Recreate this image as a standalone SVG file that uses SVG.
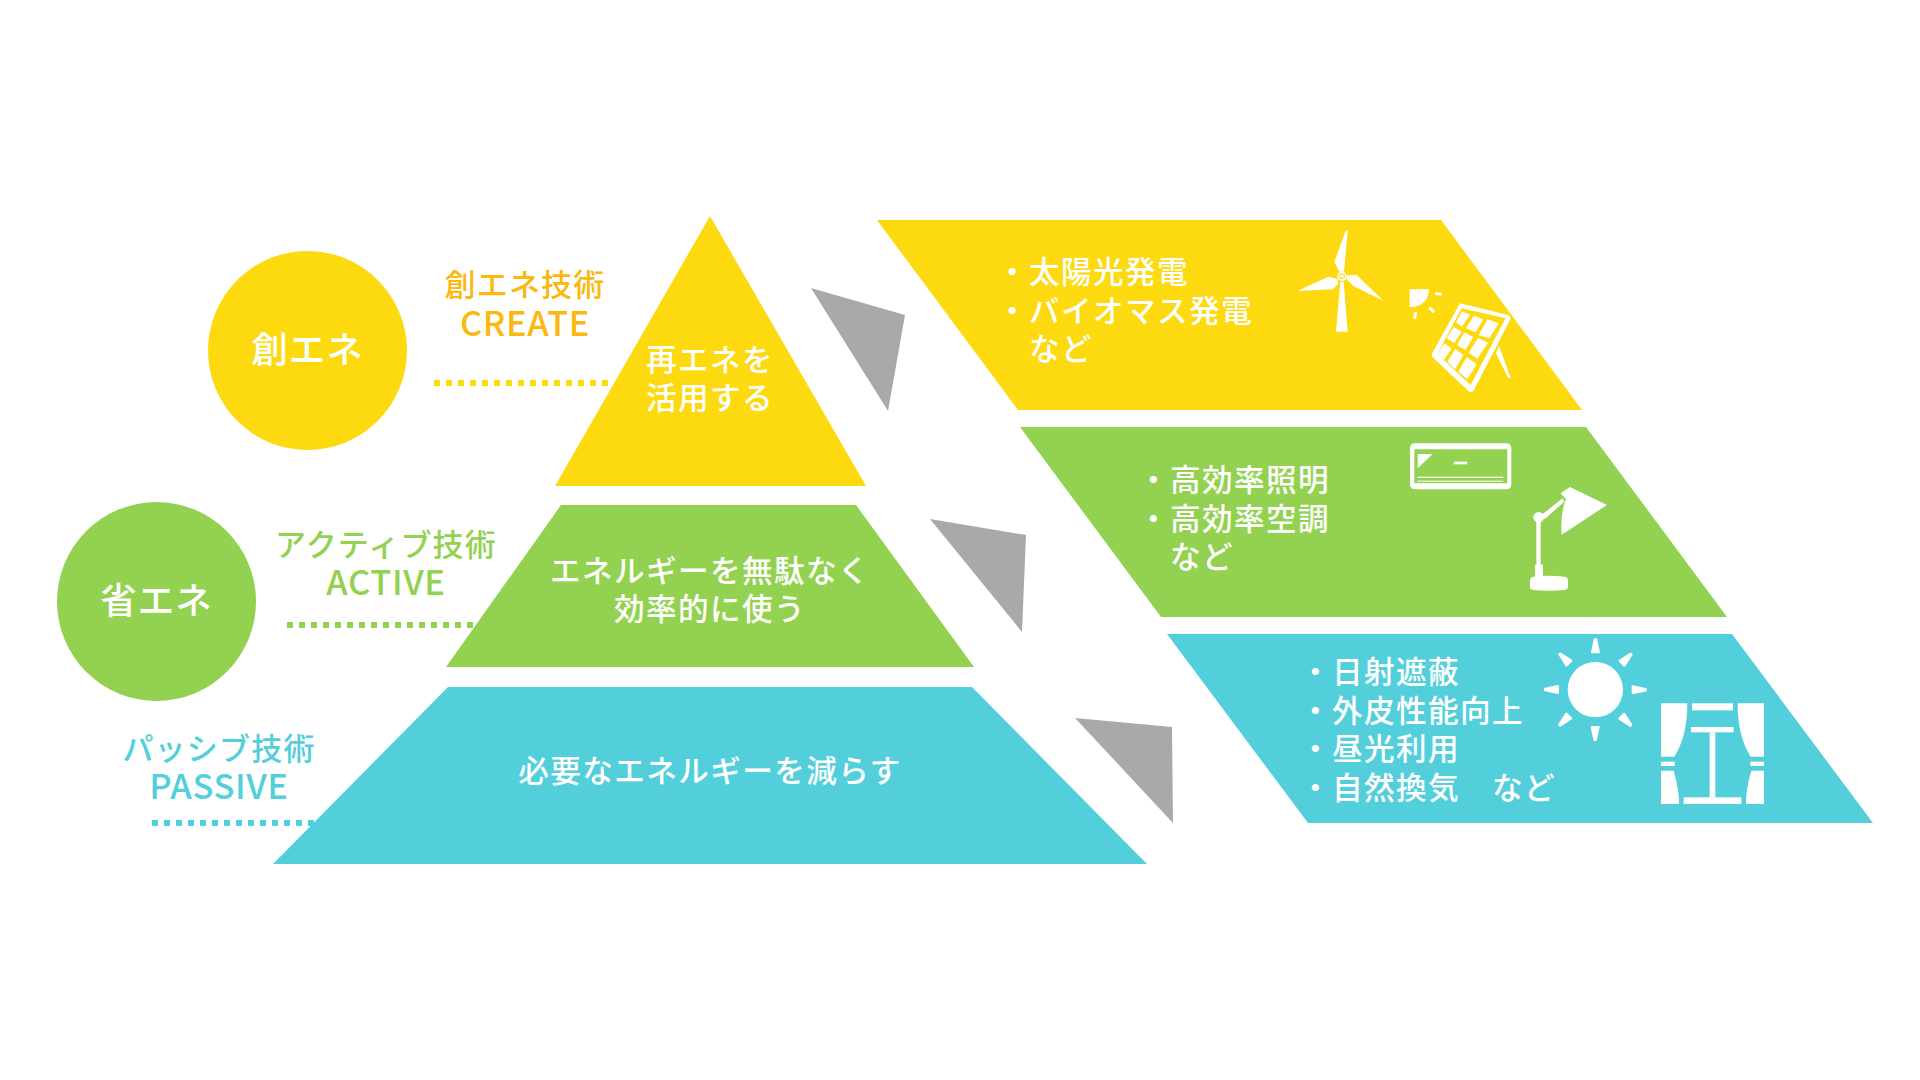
<svg xmlns="http://www.w3.org/2000/svg" width="1920" height="1080" viewBox="0 0 1920 1080">
<style>
text{font-family:"Noto Sans CJK JP","Noto Sans",sans-serif;font-weight:500;}
.w{fill:#fff;font-size:30.6px;letter-spacing:1.4px}
.c{text-anchor:middle}
.big{font-size:36.5px;letter-spacing:1px}
.lab{font-size:31px;letter-spacing:1.2px}
.en{font-size:34.5px;letter-spacing:.6px}
.y{fill:#fdd90f}.g{fill:#93d250}.b{fill:#53cfdc}.gr{fill:#aba8a8}
.o{fill:#fbb80f}
.dot{fill:none;stroke-width:6;stroke-dasharray:6 6}
.ic{fill:#fff}
</style>
<rect width="1920" height="1080" fill="#fff"/>
<g id="connectors">
<line class="dot" x1="434" y1="383" x2="612" y2="383" stroke="#fdd90f"/>
<line class="dot" x1="287" y1="625" x2="476" y2="625" stroke="#93d250"/>
<line class="dot" x1="152" y1="823" x2="320" y2="823" stroke="#53cfdc"/>
<polygon class="gr" points="811,288 905,315 888,411"/>
<polygon class="gr" points="930,519 1026,535 1022,632"/>
<polygon class="gr" points="1075,718 1172,727 1173,823"/>
</g>
<g id="circle-create"><circle class="y" cx="307.5" cy="350.5" r="99.5"/><text class="w big c" x="307.5" y="363">創エネ</text></g>
<g id="circle-save"><circle class="g" cx="156.5" cy="601.5" r="99.5"/><text class="w big c" x="156.5" y="614">省エネ</text></g>
<g id="label-create"><text class="c"><tspan class="o lab" x="525" y="296">創エネ技術</tspan><tspan class="o en" x="525" y="336">CREATE</tspan></text></g>
<g id="label-active"><text class="c"><tspan class="g lab" x="386" y="556">アクティブ技術</tspan><tspan class="g en" x="386" y="595">ACTIVE</tspan></text></g>
<g id="label-passive"><text class="c"><tspan class="b lab" x="219" y="760">パッシブ技術</tspan><tspan class="b en" x="219" y="799">PASSIVE</tspan></text></g>
<g id="pyramid-top"><polygon class="y" points="710,216 866,486 555,486"/><text class="w c"><tspan x="710" y="371">再エネを</tspan><tspan x="710" y="409">活用する</tspan></text></g>
<g id="pyramid-mid"><polygon class="g" points="561,505 856,505 974,667 446,667"/><text class="w c"><tspan x="710" y="582">エネルギーを無駄なく</tspan><tspan x="710" y="620">効率的に使う</tspan></text></g>
<g id="pyramid-bottom"><polygon class="b" points="448,687 972,687 1147,864 273,864"/><text class="w c" x="710" y="782">必要なエネルギーを減らす</text></g>
<g id="panel-create"><polygon class="y" points="877,220 1441,220 1582,410 1018,410"/>
<text class="w"><tspan x="997" y="283">・太陽光発電</tspan><tspan x="997" y="322">・バイオマス発電</tspan><tspan x="1029" y="360">など</tspan></text>
<g class="ic" transform="translate(1260 210) scale(.3333)">
<polygon points="258,60 263,64 252,185 238,185 223,155"/>
<polygon points="112,243 205,200 232,207 235,222 218,238"/>
<polygon points="370,272 290,195 262,195 260,208 280,228"/>
<polygon points="241,215 251,215 263,365 228,365"/>
<circle cx="246" cy="199" r="14" fill="#fff"/><circle cx="246" cy="199" r="9" fill="#fdd90f"/><circle cx="246" cy="199" r="6" fill="#fff"/>
<path d="M449 238H507Q505 282 462 291L449 291Z"/>
<rect x="525" y="247" width="21" height="9" rx="3" transform="rotate(8 535 251)"/>
<rect x="505" y="295" width="21" height="9" rx="3" transform="rotate(42 515 299)"/>
<rect x="456" y="312" width="21" height="9" rx="3" transform="rotate(100 466 316)"/>
<path fill-rule="evenodd" d="M600 280L745 315Q755 320 750 330L642 540Q635 550 625 543L518 442Q512 435 518 427ZM605 295L532 432L632 525L737 325Z"/>
<polygon points="588,337 606,304 630,314 606,350"/><polygon points="618,355 642,317 670,328 647,367"/><polygon points="656,375 683,328 716,340 688,385"/>
<polygon points="560,385 581,351 605,365 583,399"/><polygon points="591,405 613,367 640,381 616,420"/><polygon points="626,428 654,384 684,398 652,446"/>
<polygon points="532,432 553,400 575,415 552,450"/><polygon points="562,455 586,417 610,435 585,478"/><polygon points="595,485 620,442 650,462 622,508"/>
<polygon points="717,408 752,503 745,505 708,430"/>
</g></g>
<g id="panel-active"><polygon class="g" points="1020,427 1586,427 1727,617 1161,617"/>
<text class="w"><tspan x="1138" y="491">・高効率照明</tspan><tspan x="1138" y="530">・高効率空調</tspan><tspan x="1170" y="568">など</tspan></text>
<g class="ic" transform="translate(1380 430) scale(.3333)">
<path fill-rule="evenodd" d="M106 40H378Q394 40 394 56V162Q394 178 378 178H106Q90 178 90 162V56Q90 40 106 40ZM103 58V135H382V58ZM103 160H382V146Q382 135 382 135H103Z"/>
<polygon points="113,72 158,72 113,115"/><rect x="221" y="95" width="41" height="8"/>
<rect x="112" y="140" width="258" height="4"/><rect x="112" y="152" width="258" height="3"/>
<path d="M570 171L681 225L545 314Q540 250 558 208L542 190Z"/>
<polygon points="488,252 548,205 553,215 494,268"/><circle cx="476" cy="262" r="16"/>
<rect x="469" y="270" width="13" height="140"/><rect x="465" y="404" width="24" height="40"/>
<path d="M460 440Q505 435 553 440Q564 442 564 452V470Q564 478 553 480Q505 484 460 480Q450 478 450 470V452Q450 442 460 440Z"/>
</g></g>
<g id="panel-passive"><polygon class="b" points="1167,634 1732,634 1873,823 1308,823"/>
<text class="w"><tspan x="1300" y="683">・日射遮蔽</tspan><tspan x="1300" y="722">・外皮性能向上</tspan><tspan x="1300" y="760">・昼光利用</tspan><tspan x="1300" y="799">・自然換気　など</tspan></text>
<g class="ic" transform="translate(1520 630) scale(.3333)">
<circle cx="226" cy="179" r="83"/>
<path d="M222 25H231L240 66Q240 70 236 70H217Q212 70 213 66Z"/>
<path d="M222 25H231L240 66Q240 70 236 70H217Q212 70 213 66Z" transform="rotate(45 226 179)"/>
<path d="M222 25H231L240 66Q240 70 236 70H217Q212 70 213 66Z" transform="rotate(90 226 179)"/>
<path d="M222 25H231L240 66Q240 70 236 70H217Q212 70 213 66Z" transform="rotate(135 226 179)"/>
<path d="M222 25H231L240 66Q240 70 236 70H217Q212 70 213 66Z" transform="rotate(180 226 179)"/>
<path d="M222 25H231L240 66Q240 70 236 70H217Q212 70 213 66Z" transform="rotate(225 226 179)"/>
<path d="M222 25H231L240 66Q240 70 236 70H217Q212 70 213 66Z" transform="rotate(270 226 179)"/>
<path d="M222 25H231L240 66Q240 70 236 70H217Q212 70 213 66Z" transform="rotate(315 226 179)"/>
<path d="M423 220H502Q502 320 463 380H423Z"/><rect x="423" y="395" width="41" height="13"/><path d="M423 422H461Q478 480 477 522H423Z"/>
<path d="M732 220H653Q653 320 692 380H732Z"/><rect x="691" y="395" width="41" height="13"/><path d="M732 422H694Q677 480 678 522H732Z"/>
<rect x="516" y="220" width="123" height="21"/><rect x="513" y="291" width="128" height="16"/><rect x="569" y="307" width="17" height="195"/><rect x="491" y="502" width="173" height="20"/>
</g></g>
</svg>
